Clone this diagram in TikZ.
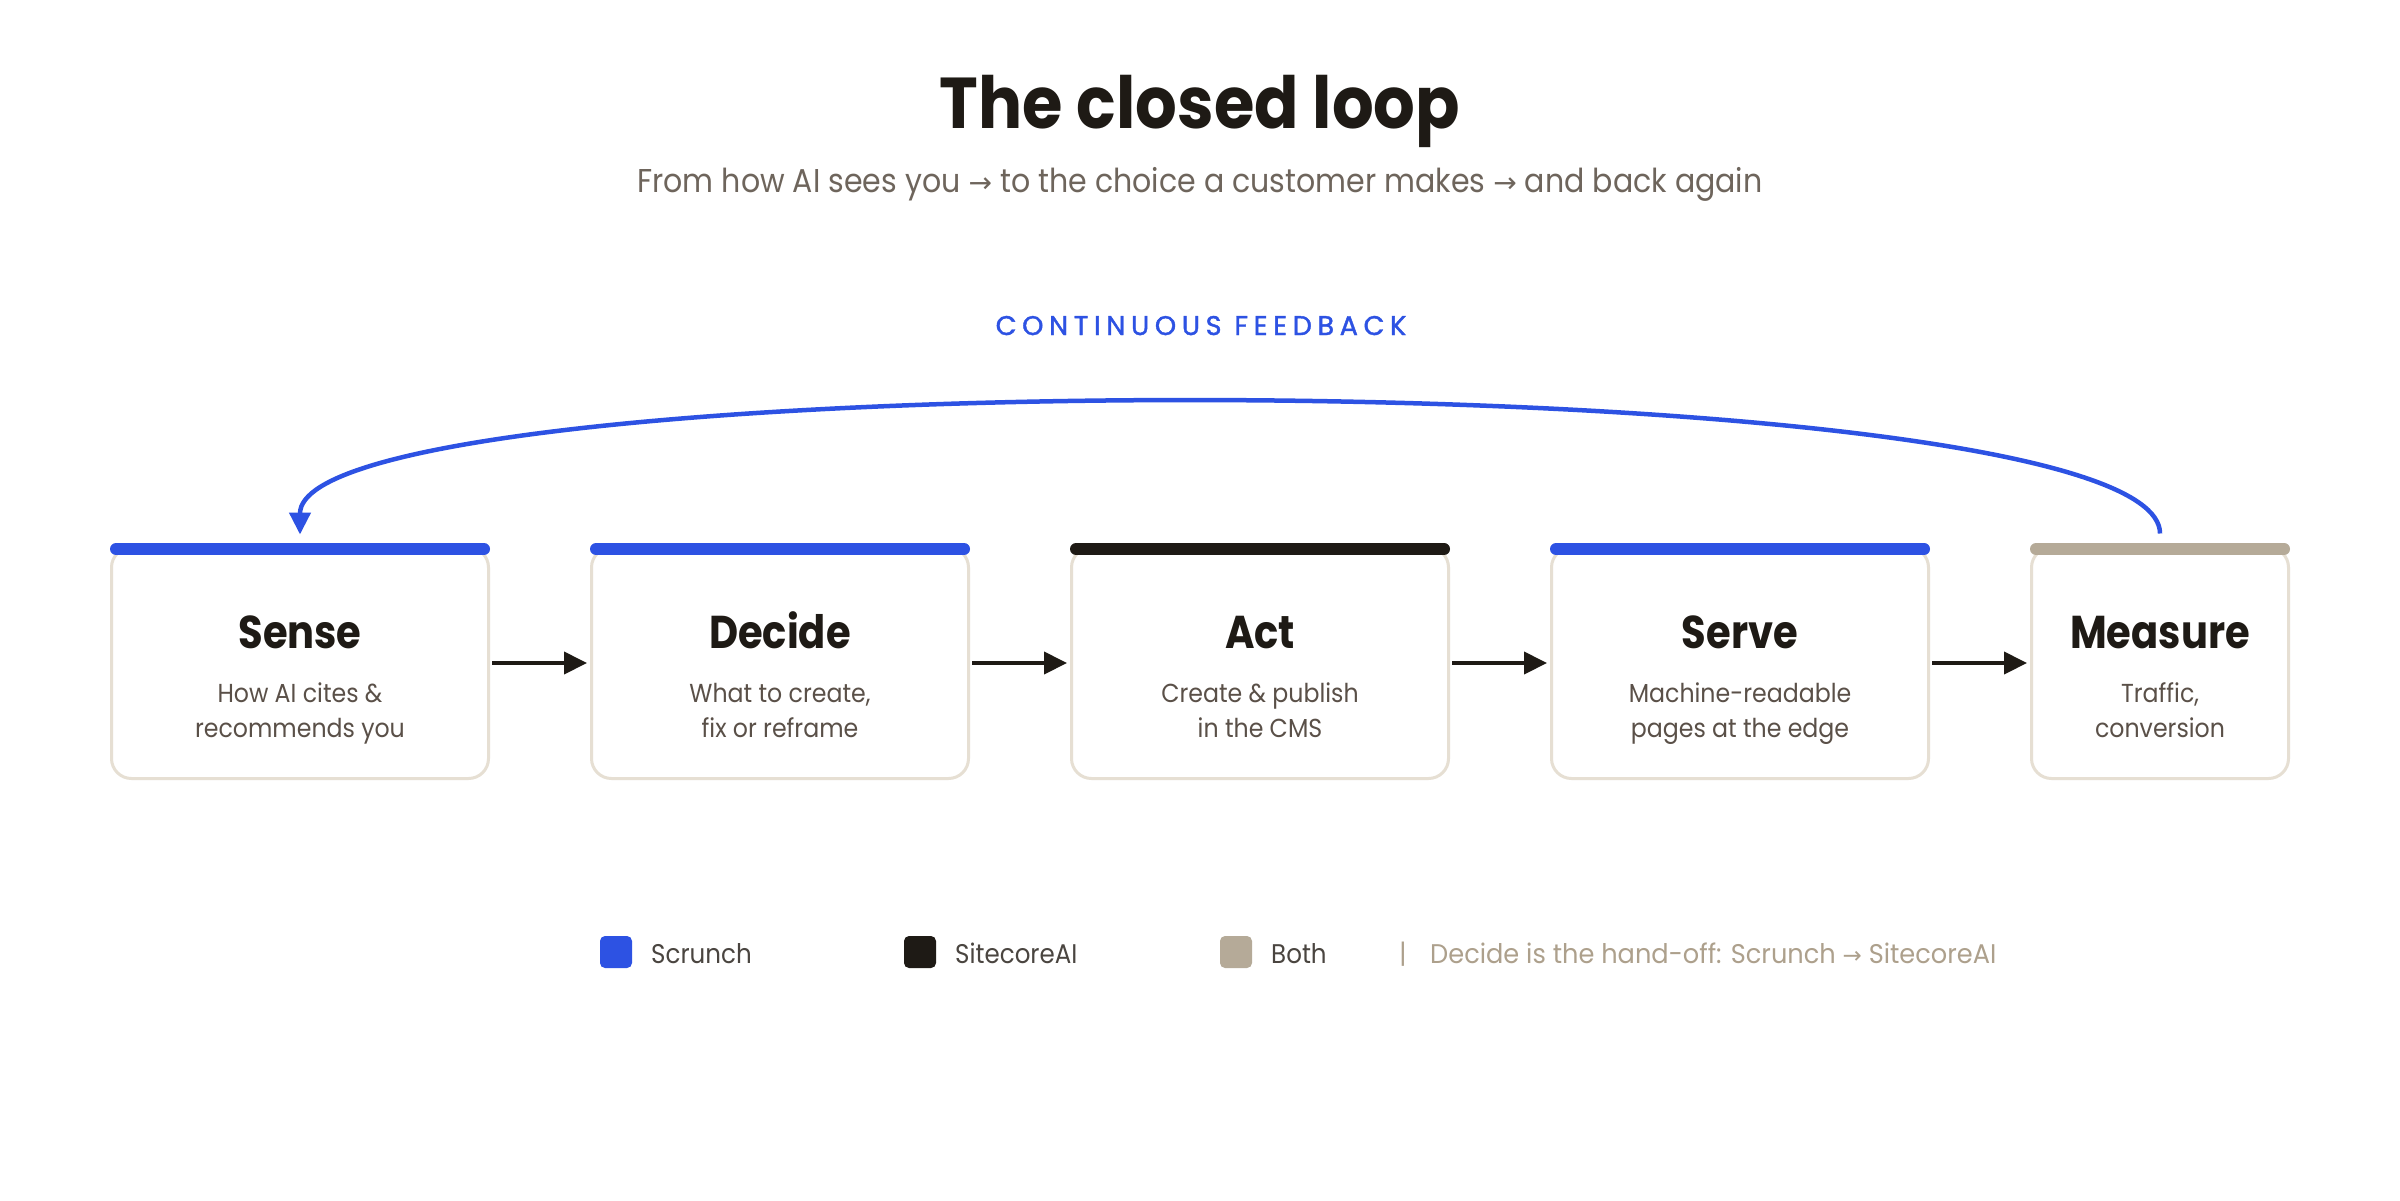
\documentclass[tikz,border=0pt]{standalone}
\usepackage{fontspec}
\setmainfont{Poppins}[FakeStretch=0.91]
\newfontfamily\stagefont{Poppins}[FakeStretch=0.87]
\newfontfamily\notefont{Poppins}[FakeStretch=0.95]
\newfontfamily\arrfont{DejaVu Sans}
\newfontfamily\spacedfont{Poppins}[LetterSpace=21,FakeBold=1.5]
\usetikzlibrary{arrows.meta}
\definecolor{cblue}{HTML}{2D52E3}
\definecolor{cdark}{HTML}{1E1A15}
\definecolor{ctan}{HTML}{B5AA98}
\definecolor{cborder}{HTML}{E6DFD3}
\definecolor{csub}{HTML}{6E655C}
\definecolor{cboxsub}{HTML}{5A5048}
\definecolor{clegend}{HTML}{4A4540}
\definecolor{cnote}{HTML}{ADA08C}
\newcommand\fsz[1]{\fontsize{#1}{#1}\selectfont}
\newcommand\rarr{{\arrfont\fontsize{0.85em}{1em}\selectfont →}}
\tikzset{
  stage/.style={draw=cborder, line width=3pt, rounded corners=20pt, minimum width=377pt,
    minimum height=231pt, inner sep=0pt, fill=white},
  stagetitle/.style={anchor=base, font=\stagefont\bfseries\fsz{46}, text=cdark, inner sep=0pt},
  stagesub/.style={anchor=base, font=\fsz{26}, text=cboxsub, inner sep=0pt},
  topbar/.style={line width=12pt, line cap=round},
  flow/.style={draw=cdark, line width=4pt, -{Triangle[length=23pt,width=22pt]}, shorten <=2pt, shorten >=3pt},
  feedback/.style={draw=cblue, line width=4.5pt, -{Triangle[length=22pt,width=21pt]}},
  swatch/.style={minimum size=32pt, inner sep=0pt, rounded corners=5pt},
  legendtext/.style={anchor=base west, font=\fsz{27}, text=clegend, inner sep=0pt},
}
\begin{document}
\begin{tikzpicture}[x=1pt,y=-1pt]
\fill[white] (0,0) rectangle (2400,1200);
\useasboundingbox (0,0) rectangle (2400,1200);

% heading
\node[anchor=base, font=\bfseries\fsz{72}, text=cdark, inner sep=0pt] (title) at (1200,128) {The closed loop};
\node[anchor=base, font=\fsz{33}, text=csub, inner sep=0pt] (subtitle) at (1200,192)
  {From how AI sees you \rarr{} to the choice a customer makes \rarr{} and back again};
\node[anchor=base, font=\spacedfont\fsz{27}, text=cblue, inner sep=0pt] (fblabel) at (1201,335) {CONTINUOUS FEEDBACK};

% stages
\node[stage] (sense) at (300,663) {};
\node[stage] (decide) at (780,663) {};
\node[stage] (act) at (1260,663) {};
\node[stage] (serve) at (1740,663) {};
\node[stage, minimum width=257pt] (measure) at (2160,663) {};

\draw[topbar, cblue] ([xshift=6pt,yshift=-3pt]sense.north west) -- ([xshift=-6pt,yshift=-3pt]sense.north east);
\draw[topbar, cblue] ([xshift=6pt,yshift=-3pt]decide.north west) -- ([xshift=-6pt,yshift=-3pt]decide.north east);
\draw[topbar, cdark] ([xshift=6pt,yshift=-3pt]act.north west) -- ([xshift=-6pt,yshift=-3pt]act.north east);
\draw[topbar, cblue] ([xshift=6pt,yshift=-3pt]serve.north west) -- ([xshift=-6pt,yshift=-3pt]serve.north east);
\draw[topbar, ctan] ([xshift=6pt,yshift=-3pt]measure.north west) -- ([xshift=-6pt,yshift=-3pt]measure.north east);

\node[stagetitle] (sensetitle) at (300,648) {Sense};
\node[stagesub] (sensesubA) at (300,702) {How AI cites \&};
\node[stagesub] (sensesubB) at (300,737) {recommends you};

\node[stagetitle] (decidetitle) at (780,648) {Decide};
\node[stagesub] (decidesubA) at (780,702) {What to create,};
\node[stagesub] (decidesubB) at (780,737) {fix or reframe};

\node[stagetitle] (acttitle) at (1260,648) {Act};
\node[stagesub] (actsubA) at (1260,702) {Create \& publish};
\node[stagesub] (actsubB) at (1260,737) {in the CMS};

\node[stagetitle] (servetitle) at (1740,648) {Serve};
\node[stagesub] (servesubA) at (1740,702) {Machine-readable};
\node[stagesub] (servesubB) at (1740,737) {pages at the edge};

\node[stagetitle] (measuretitle) at (2160,648) {Measure};
\node[stagesub] (measuresubA) at (2160,702) {Traffic,};
\node[stagesub] (measuresubB) at (2160,737) {conversion};

% flow arrows
\draw[flow] (sense.east) -- (decide.west);
\draw[flow] (decide.east) -- (act.west);
\draw[flow] (act.east) -- (serve.west);
\draw[flow] (serve.east) -- (measure.west);

% feedback loop
\coordinate (fbstart) at ([yshift=12.5pt]measure.north);
\coordinate (fbend) at ([yshift=11.5pt]sense.north);
\draw[feedback] (fbstart) .. controls +(0,-175) and +(0,-175) .. (fbend);

% legend
\node[swatch, fill=cblue] (swscrunch) at (616,952) {};
\node[legendtext] (lgscrunch) at (651,963) {Scrunch};
\node[swatch, fill=cdark] (swsitecore) at (920,952) {};
\node[legendtext] (lgsitecore) at (955,963) {SitecoreAI};
\node[swatch, fill=ctan] (swboth) at (1236,952) {};
\node[legendtext] (lgboth) at (1271,963) {Both};
\node[anchor=base, font=\fsz{27}, text=cnote, inner sep=0pt] (lgsep) at (1403,963) {|};
\node[anchor=base west, font=\notefont\fsz{27}, text=cnote, inner sep=0pt] (lgnote) at (1430,963)
  {Decide is the hand-off: Scrunch \rarr{} SitecoreAI};
\end{tikzpicture}
\end{document}
